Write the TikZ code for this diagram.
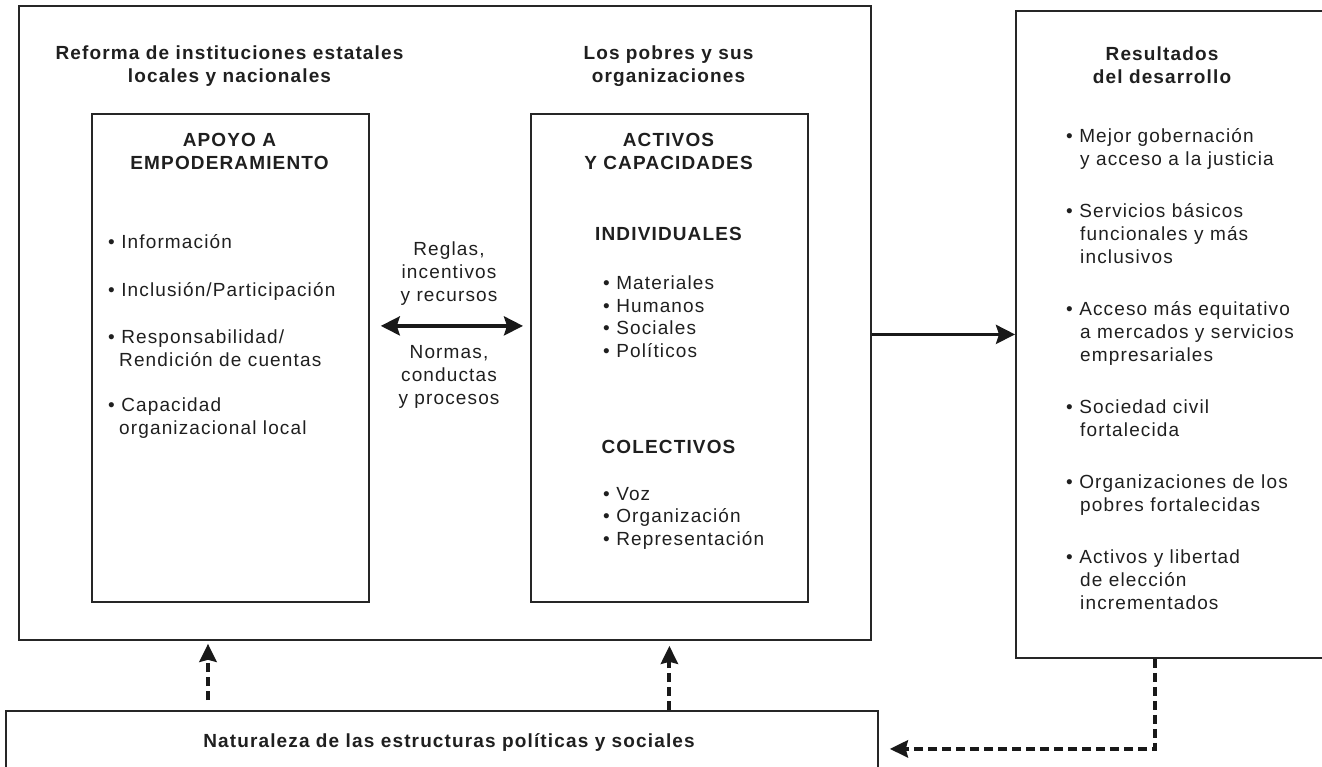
\documentclass[tikz,border=0pt]{standalone}
\usepackage{fontspec}
\setmainfont{Liberation Sans}[LetterSpace=6]
\usetikzlibrary{positioning,arrows.meta}

\begin{document}
\begin{tikzpicture}[x=1pt, y=-1pt,
    font=\fontsize{19}{23}\selectfont, text=black!88,
    caja/.style={rectangle, draw=black!85, line width=1.8pt, inner sep=0pt, anchor=north west},
    titulo/.style={font=\fontsize{19}{23}\selectfont\bfseries, align=center, inner sep=0pt},
    lista/.style={align=left, anchor=north west, inner sep=0pt},
    flecha/.style={line width=3.5pt, draw=black!90, -{Stealth[length=19pt, width=19pt, inset=3pt]}},
    doble/.style={line width=3.5pt, draw=black!90, {Stealth[length=19pt, width=19pt, inset=3pt]}-{Stealth[length=19pt, width=19pt, inset=3pt]}},
    punteada/.style={line width=4pt, draw=black!90, dash pattern=on 9pt off 5pt, -{Stealth[length=18pt, width=17pt, inset=2pt]}}
]
\useasboundingbox (0,0) rectangle (1322,766);

% cajas
\node[caja, minimum width=852pt, minimum height=634pt] (Marco) at (18,5) {};
\node[caja, minimum width=277pt, minimum height=488pt] (Apoyo) at (91,113) {};
\node[caja, minimum width=277pt, minimum height=488pt] (Activos) at (530,113) {};
\node[caja, minimum width=340pt, minimum height=647pt] (Resultados) at (1015,10) {};
\node[caja, minimum width=872pt, minimum height=76pt] (Naturaleza) at (5,710) {};

% titulos
\node[titulo] (TitReforma) at (229.5,66) {Reforma de instituciones estatales\\locales y nacionales};
\node[titulo] (TitPobres) at (668.5,66) {Los pobres y sus\\organizaciones};
\node[titulo] (TitResultados) at (1162,65) {Resultados\\del desarrollo};
\node[titulo] (TitApoyo) at (229.5,151) {APOYO A\\EMPODERAMIENTO};
\node[titulo] (TitActivos) at (668.5,151) {ACTIVOS\\Y CAPACIDADES};
\node[titulo] (TitIndiv) at (668.5,234) {INDIVIDUALES};
\node[titulo] (TitColec) at (668.5,447) {COLECTIVOS};
\node[titulo] (TitNaturaleza) at (449,742) {Naturaleza de las estructuras políticas y sociales};

% listas
\node[lista] (ListaApoyo) at (108,234) {• Información\\[25pt]
  • Inclusión/Participación\\[24pt]
  • Responsabilidad/\\
  \hspace*{11pt}Rendición de cuentas\\[22pt]
  • Capacidad\\
  \hspace*{11pt}organizacional local};
\node[lista, font=\fontsize{19}{22.5}\selectfont] (ListaIndiv) at (603,276) {• Materiales\\• Humanos\\• Sociales\\• Políticos};
\node[lista, font=\fontsize{19}{22.5}\selectfont] (ListaColec) at (603,487) {• Voz\\• Organización\\• Representación};
\node[lista] (ListaResultados) at (1066,128) {• Mejor gobernación\\
  \hspace*{14pt}y acceso a la justicia\\[29pt]
  • Servicios básicos\\
  \hspace*{14pt}funcionales y más\\
  \hspace*{14pt}inclusivos\\[29pt]
  • Acceso más equitativo\\
  \hspace*{14pt}a mercados y servicios\\
  \hspace*{14pt}empresariales\\[29pt]
  • Sociedad civil\\
  \hspace*{14pt}fortalecida\\[29pt]
  • Organizaciones de los\\
  \hspace*{14pt}pobres fortalecidas\\[29pt]
  • Activos y libertad\\
  \hspace*{14pt}de elección\\
  \hspace*{14pt}incrementados};

% textos entre cajas
\node[align=center, inner sep=0pt] (Reglas) at (449,274) {Reglas,\\incentivos\\y recursos};
\node[align=center, inner sep=0pt] (Normas) at (449,377) {Normas,\\conductas\\y procesos};

% flechas
\draw[doble, shorten <=11pt, shorten >=7pt] ([yshift=32pt]Apoyo.east) -- ([yshift=32pt]Activos.west);
\draw[flecha] (Marco.east |- Resultados.west) -- (Resultados.west);

\coordinate (PieIzq) at (208,700);
\coordinate (Codo) at (1155,0);
\draw[punteada, shorten >=3pt] (PieIzq) -- (PieIzq |- Marco.south);
\draw[punteada, shorten >=5pt] (Naturaleza.north -| Activos.south) -- (Activos.south |- Marco.south);
\draw[punteada] (Resultados.south -| Codo) |- ([xshift=11pt]Naturaleza.east);

\end{tikzpicture}
\end{document}
